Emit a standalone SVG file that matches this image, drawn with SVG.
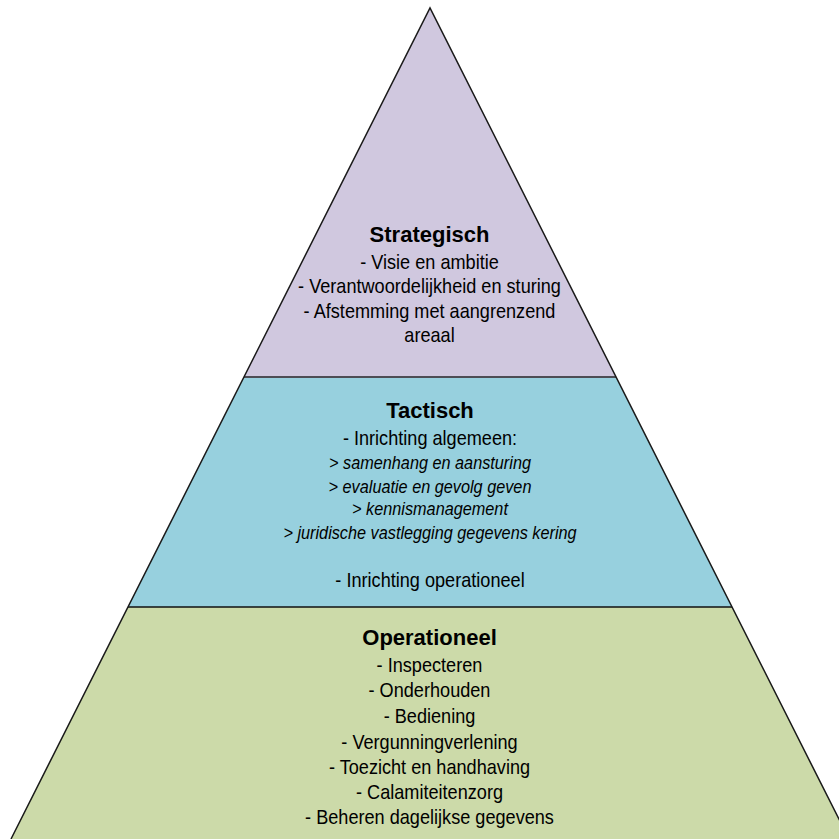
<svg xmlns="http://www.w3.org/2000/svg" width="839" height="839" viewBox="0 0 839 839">
<style>
.t{font-family:"Liberation Sans",Arial,sans-serif;text-anchor:middle;fill:#000}
.h{font-size:22px;font-weight:bold}
.r{font-size:19.5px}
.i{font-size:17.5px;font-style:italic}
.edge{fill:none;stroke:#1a1a1a;stroke-width:1.5;stroke-linejoin:miter}
</style>
<rect width="839" height="839" fill="#ffffff"/>
<g id="tier-strategisch">
<polygon points="430,8 244,377 616,377" fill="#D0C8DF"/>
<g class="t" transform="translate(429.5 0)">
<text class="h" x="0" y="242">Strategisch</text>
<g transform="scale(0.93 1)">
<text class="r" x="0" y="269">- Visie en ambitie</text>
<text class="r" x="0" y="293">- Verantwoordelijkheid en sturing</text>
<text class="r" x="0" y="318">- Afstemming met aangrenzend</text>
<text class="r" x="0" y="342">areaal</text>
</g>
</g>
</g>
<g id="tier-tactisch">
<polygon points="244,377 616,377 732,607 128,607" fill="#97D0DE"/>
<g class="t" transform="translate(430 0)">
<text class="h" x="0" y="418">Tactisch</text>
<g transform="scale(0.93 1)">
<text class="r" x="0" y="445">- Inrichting algemeen:</text>
<text class="i" x="0" y="469">&gt; samenhang en aansturing</text>
<text class="i" x="0" y="493">&gt; evaluatie en gevolg geven</text>
<text class="i" x="0" y="515">&gt; kennismanagement</text>
<text class="i" x="0" y="539">&gt; juridische vastlegging gegevens kering</text>
<text class="r" x="0" y="587">- Inrichting operationeel</text>
</g>
</g>
</g>
<g id="tier-operationeel">
<polygon points="128,607 732,607 849,839 11,839" fill="#CCDAA9"/>
<g class="t" transform="translate(429.5 0)">
<text class="h" x="0" y="645">Operationeel</text>
<g transform="scale(0.93 1)">
<text class="r" x="0" y="672">- Inspecteren</text>
<text class="r" x="0" y="697">- Onderhouden</text>
<text class="r" x="0" y="723">- Bediening</text>
<text class="r" x="0" y="749">- Vergunningverlening</text>
<text class="r" x="0" y="774">- Toezicht en handhaving</text>
<text class="r" x="0" y="799">- Calamiteitenzorg</text>
<text class="r" x="0" y="824">- Beheren dagelijkse gegevens</text>
</g>
</g>
</g>
<g id="outline">
<line x1="244" y1="377" x2="616" y2="377" stroke="#4d4d55" stroke-width="2"/>
<line x1="128" y1="607" x2="732" y2="607" stroke="#111" stroke-width="1.6"/>
<polyline class="edge" points="11,839 430,8 849,839"/>
</g>
</svg>
